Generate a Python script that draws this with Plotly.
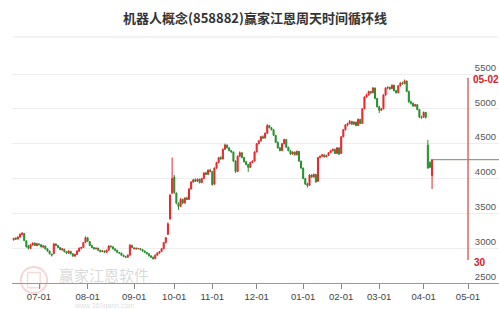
import numpy as np
import pandas as pd
import plotly.graph_objects as go

title = "机器人概念(858882)赢家江恩周天时间循环线"
start_date = "2024-06-13"
holidays = ["2024-09-16", "2024-09-17", "2024-10-01", "2024-10-02", "2024-10-03",
            "2024-10-04", "2024-10-07", "2025-01-01", "2025-01-28", "2025-01-29",
            "2025-01-30", "2025-01-31", "2025-02-03", "2025-02-04", "2025-04-04",
            "2025-05-01", "2025-05-02", "2025-05-05"]
tick_months = ["2024-07-01", "2024-08-01", "2024-09-01", "2024-10-01", "2024-11-01",
               "2024-12-01", "2025-01-01", "2025-02-01", "2025-03-01", "2025-04-01",
               "2025-05-01"]
tick_labels = ["07-01", "08-01", "09-01", "10-01", "11-01", "12-01", "01-01",
               "02-01", "03-01", "04-01", "05-01"]
y_ticks = [2500, 3000, 3500, 4000, 4500, 5000, 5500]

open_ = [
    3120, 3145, 3130, 3160, 3195, 3210, 3105, 3030, 2995, 3045, 3075, 3035,
    3060, 3050, 3015, 3030, 2990, 2960, 2915, 2920, 3060, 3040, 3010, 2975, 2985, 2950, 2925, 2955, 2920, 2885, 2910, 2955, 3000, 3010, 3080,
    3150, 3095, 3040, 3010, 2990, 3000, 2970, 2950, 2960, 2940, 2970, 3030, 3020, 2990, 2970, 2935, 2930, 2900, 2880, 2870, 2900, 3040,
    2990, 3000, 2990, 2995, 2980, 2960, 2940, 2920, 2890, 2870, 2850, 2900, 2930, 2950, 2990, 3080, 3200, 3420, 3790,
    4020, 3790, 3640, 3600, 3700, 3650, 3720, 3700, 3850, 3950, 3985, 3960, 3990, 3940, 4000, 4080, 4060, 4120,
    4100, 3920, 4150, 4230, 4300, 4280, 4420, 4480, 4440, 4400, 4380, 4250, 4100, 4320, 4370, 4300, 4240, 4200, 4160, 4230, 4250,
    4380, 4500, 4540, 4600, 4580, 4650, 4760, 4730, 4700, 4620, 4520, 4440, 4400, 4500, 4560, 4450, 4400, 4350, 4380, 4340, 4390, 4250,
    4150, 4000, 3920, 3900, 4050, 4020, 4060, 3960, 4300, 4320, 4340, 4310, 4330, 4370, 4400, 4420, 4360, 4440,
    4360, 4600, 4700, 4770, 4790, 4820, 4780, 4810, 4760, 4850, 4790, 5000, 5170, 5200, 5250, 5230, 5300, 5150,
    5030, 4980, 5000, 5200, 5300, 5310, 5290, 5340, 5260, 5230, 5330, 5370, 5360, 5400, 5250, 5100, 5080, 5040, 5060, 4990, 4880,
    4880, 4950, 4480, 4230, 4040,
]
high = [
    3150, 3155, 3170, 3210, 3230, 3215, 3110, 3045, 3060, 3085, 3080, 3075,
    3070, 3055, 3045, 3035, 3000, 2965, 2920, 3075, 3070, 3045, 3015, 3000, 2990, 2955, 2970, 2960, 2925, 2920, 2970, 3010, 3020, 3090, 3170,
    3160, 3100, 3050, 3015, 3010, 3005, 2975, 2970, 2965, 2980, 3045, 3040, 3025, 2995, 2975, 2945, 2935, 2905, 2890, 2910, 3060, 3050,
    3015, 3010, 3005, 3000, 2985, 2965, 2945, 2925, 2895, 2880, 2910, 2940, 2960, 3000, 3090, 3160, 3370, 3780, 4300,
    4050, 3800, 3660, 3720, 3710, 3730, 3740, 3860, 3960, 3995, 4000, 4000, 3995, 4010, 4090, 4100, 4130, 4140,
    4110, 4160, 4240, 4310, 4320, 4430, 4500, 4490, 4450, 4410, 4385, 4260, 4330, 4390, 4375, 4310, 4250, 4210, 4240, 4260, 4390,
    4510, 4550, 4610, 4620, 4660, 4780, 4770, 4740, 4705, 4625, 4530, 4450, 4510, 4570, 4565, 4455, 4410, 4390, 4385, 4400, 4395, 4255,
    4155, 4010, 3940, 4060, 4060, 4070, 4065, 4310, 4330, 4350, 4345, 4340, 4380, 4410, 4430, 4425, 4450, 4445,
    4610, 4710, 4780, 4800, 4840, 4825, 4820, 4815, 4860, 4855, 5010, 5180, 5220, 5260, 5255, 5310, 5305, 5155,
    5040, 5010, 5210, 5310, 5320, 5315, 5350, 5345, 5270, 5340, 5380, 5390, 5420, 5405, 5260, 5120, 5090, 5070, 5065, 4995, 4900,
    4960, 4955, 4555, 4250, 4280,
]
low = [
    3110, 3120, 3125, 3150, 3185, 3100, 3010, 2980, 2990, 3040, 3030, 3030,
    3040, 3010, 3005, 2980, 2950, 2910, 2880, 2915, 3030, 3000, 2970, 2965, 2940, 2915, 2920, 2910, 2875, 2880, 2905, 2950, 2985, 3005, 3075,
    3090, 3030, 3000, 2980, 2985, 2960, 2940, 2945, 2930, 2935, 2965, 3010, 2980, 2960, 2930, 2920, 2890, 2870, 2860, 2865, 2895, 3000,
    2985, 2980, 2985, 2970, 2950, 2930, 2910, 2880, 2860, 2835, 2845, 2895, 2920, 2945, 2985, 3070, 3190, 3410, 3780,
    3780, 3630, 3550, 3590, 3630, 3640, 3690, 3695, 3845, 3940, 3950, 3950, 3930, 3935, 3995, 4050, 4055, 4090,
    3900, 3910, 4140, 4220, 4270, 4275, 4410, 4430, 4390, 4370, 4240, 4080, 4095, 4310, 4290, 4230, 4190, 4095, 4150, 4220, 4245,
    4375, 4490, 4530, 4570, 4575, 4640, 4720, 4690, 4610, 4510, 4430, 4390, 4395, 4490, 4440, 4390, 4340, 4345, 4330, 4335, 4240, 4140,
    3990, 3910, 3870, 3895, 4010, 4015, 3940, 3955, 4290, 4310, 4300, 4305, 4325, 4365, 4390, 4350, 4355, 4340,
    4355, 4590, 4690, 4750, 4780, 4770, 4770, 4750, 4755, 4780, 4785, 4995, 5160, 5190, 5210, 5225, 5140, 5020,
    4940, 4970, 4995, 5190, 5280, 5270, 5285, 5250, 5220, 5225, 5320, 5350, 5355, 5240, 5090, 5060, 5030, 5030, 4980, 4870, 4860,
    4875, 4860, 4140, 4150, 3850,
]
close = [
    3140, 3130, 3160, 3200, 3215, 3110, 3020, 3000, 3050, 3070, 3040, 3065,
    3050, 3020, 3035, 2990, 2960, 2920, 2900, 3060, 3040, 3010, 2980, 2990, 2950, 2930, 2960, 2920, 2890, 2910, 2960, 3000, 3010, 3080, 3150,
    3100, 3040, 3010, 2990, 3000, 2970, 2950, 2960, 2940, 2970, 3030, 3020, 2990, 2970, 2940, 2930, 2900, 2880, 2870, 2900, 3040, 3010,
    3000, 2990, 2995, 2980, 2960, 2940, 2920, 2890, 2870, 2850, 2900, 2930, 2950, 2990, 3080, 3150, 3350, 3760, 4000,
    3800, 3650, 3600, 3700, 3650, 3720, 3700, 3850, 3950, 3980, 3960, 3990, 3940, 4000, 4080, 4060, 4120, 4100,
    3910, 4150, 4230, 4300, 4280, 4420, 4480, 4440, 4400, 4380, 4250, 4100, 4320, 4370, 4300, 4240, 4200, 4160, 4230, 4250, 4380,
    4500, 4540, 4600, 4580, 4650, 4760, 4730, 4700, 4620, 4520, 4440, 4400, 4500, 4560, 4450, 4400, 4350, 4380, 4340, 4390, 4250, 4150,
    4000, 3920, 3900, 4050, 4020, 4060, 3950, 4300, 4320, 4340, 4310, 4330, 4370, 4400, 4420, 4360, 4440, 4350,
    4600, 4700, 4770, 4790, 4820, 4780, 4810, 4760, 4850, 4790, 5000, 5170, 5200, 5250, 5230, 5300, 5150, 5030,
    4980, 5000, 5200, 5300, 5310, 5290, 5340, 5260, 5230, 5330, 5370, 5360, 5400, 5250, 5100, 5080, 5040, 5060, 4990, 4880, 4870,
    4950, 4880, 4150, 4160, 4270,
]

cycle_date = "2025-05-02"
cycle_label = "05-02"
cycle_count = "30"
cycle_top = 5446
cycle_bottom = 2830

RED = "#e8262b"
GREEN = "#23912c"

days = pd.bdate_range(start_date, "2025-06-30", freq="C", holidays=holidays)
n = len(close)
x = np.arange(n)


def pos(d):
    return int(days.searchsorted(pd.Timestamp(d)))


tickvals = [pos(d) for d in tick_months]
cycle_x = pos(cycle_date)
x_min, x_max = -0.78, 229.67

fig = go.Figure()
fig.add_trace(go.Candlestick(
    x=x, open=open_, high=high, low=low, close=close,
    increasing=dict(line=dict(color=RED, width=1), fillcolor=RED),
    decreasing=dict(line=dict(color=GREEN, width=1), fillcolor=GREEN),
    whiskerwidth=0, showlegend=False, hoverinfo="skip"))

# last-close level line
fig.add_trace(go.Scatter(x=[n - 0.5, x_max], y=[close[-1], close[-1]], mode="lines",
                         line=dict(color="#6b8f5f", width=1), showlegend=False,
                         hoverinfo="skip"))
# cycle time line
fig.add_trace(go.Scatter(x=[cycle_x, cycle_x], y=[cycle_bottom, cycle_top], mode="lines",
                         line=dict(color="#e06464", width=1.5), showlegend=False,
                         hoverinfo="skip"))

fig.add_annotation(x=cycle_x, y=5415, xref="x", yref="y", text="<b>" + cycle_label + "</b>",
                   showarrow=False, xanchor="left", yanchor="middle", xshift=3,
                   font=dict(family="Liberation Sans, Arial", size=10, color="#d4202a"))
fig.add_annotation(x=cycle_x, y=2800, xref="x", yref="y", text="<b>" + cycle_count + "</b>",
                   showarrow=False, xanchor="left", yanchor="middle", xshift=4,
                   font=dict(family="Liberation Sans, Arial", size=10, color="#d4202a"))

# watermark
fig.add_annotation(x=0.189, y=0.035, xref="paper", yref="paper", text="赢家江恩软件",
                   showarrow=False, xanchor="center", yanchor="middle",
                   font=dict(family="Noto Sans CJK SC", size=15, color="rgba(170,170,170,0.45)"))
fig.add_annotation(x=0.189, y=-0.095, xref="paper", yref="paper", text="www.360gann.com",
                   showarrow=False, xanchor="center", yanchor="middle",
                   font=dict(family="Liberation Sans, Arial", size=7, color="rgba(180,180,180,0.45)"))
fig.add_shape(type="circle", xref="paper", yref="paper", x0=0.018, x1=0.072, y0=-0.042, y1=0.066,
              line=dict(color="rgba(220,140,140,0.35)", width=2))
fig.add_shape(type="rect", xref="paper", yref="paper", x0=0.032, x1=0.058, y0=-0.020, y1=0.044,
              line=dict(color="rgba(220,140,140,0.3)", width=1.5))

# separator under title
fig.add_shape(type="line", xref="paper", yref="paper", x0=0.002, x1=0.996, y0=1.0207, y1=1.0207,
              line=dict(color="#e6e6e6", width=1))

fig.update_layout(
    width=499, height=309,
    margin=dict(l=12, r=0, t=42, b=26),
    paper_bgcolor="white", plot_bgcolor="white",
    title=dict(text="<b>" + title + "</b>", x=0.511, xanchor="center", y=1 - 18 / 309,
               yanchor="middle", yref="container",
               font=dict(family="Noto Sans CJK SC", size=13, color="#333333")),
    xaxis=dict(range=[x_min, x_max], tickmode="array", tickvals=tickvals, ticktext=tick_labels,
               ticks="outside", ticklen=5, tickcolor="#888888", showline=True,
               linecolor="#999999", linewidth=1, showgrid=False, zeroline=False,
               tickfont=dict(family="Liberation Sans, Arial", size=9.5, color="#444444"),
               rangeslider=dict(visible=False)),
    yaxis=dict(range=[2500, 5959.6], side="right", tickmode="array", tickvals=y_ticks,
               ticklabelposition="inside top", ticks="", showgrid=True, gridcolor="#eeeeee",
               zeroline=False, showline=False,
               tickfont=dict(family="Liberation Sans, Arial", size=9.5, color="#555555")),
    showlegend=False,
)

fig.write_html("out.html")
